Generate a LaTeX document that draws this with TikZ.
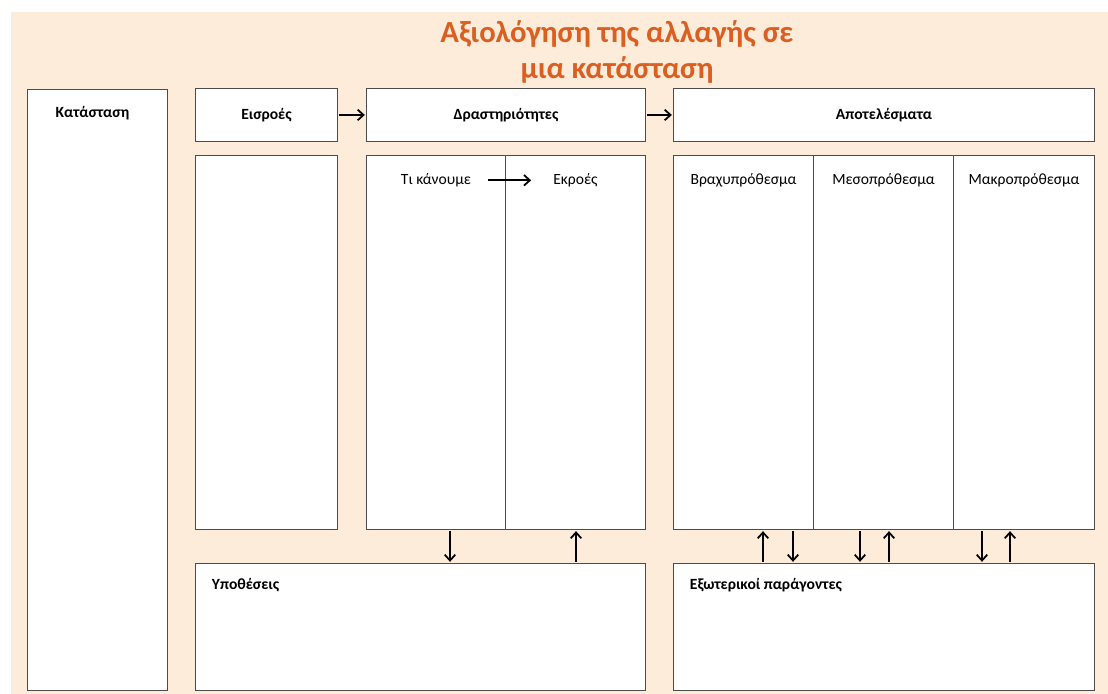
\documentclass[tikz,border=0pt]{standalone}
\usepackage{fontspec}
\setmainfont{Carlito}
\usetikzlibrary{arrows.meta,positioning}
\definecolor{peach}{HTML}{FDECD9}
\definecolor{titleorange}{HTML}{DC5F22}
\begin{document}
\begin{tikzpicture}[x=0.03cm,y=-0.03cm,
  box/.style={draw=black!70,line width=0.8pt,fill=white,anchor=north west,inner sep=0pt},
  head/.style={font=\bfseries\fontsize{13.3}{16}\selectfont,inner sep=0pt},
  sub/.style={font=\fontsize{13.3}{16}\selectfont,inner sep=0pt},
  arr/.style={-{Straight Barb[length=5pt,width=9pt]},line width=1.5pt,shorten <=1pt,shorten >=1pt}]
\useasboundingbox (0,0) rectangle (1108,694);
\fill[peach] (11,12) rectangle (1108,694);
\node[font=\bfseries\fontsize{26.2}{31}\selectfont,text=titleorange,align=center] (title) at (617,52) {Αξιολόγηση της αλλαγής σε\\μια κατάσταση};

\node[box,minimum width=4.2cm,minimum height=18.03cm] (situation) at (27,89) {};
\node[box,head,minimum width=4.26cm,minimum height=1.59cm] (inputs) at (195,88) {Εισροές};
\node[box,head,minimum width=8.37cm,minimum height=1.59cm] (acts) at (366,88) {Δραστηριότητες};
\node[box,head,minimum width=12.63cm,minimum height=1.59cm] (results) at (673,88) {Αποτελέσματα};
\node[box,minimum width=4.26cm,minimum height=11.22cm] (inbody) at (195,155) {};
\node[box,minimum width=4.17cm,minimum height=11.22cm] (doing) at (366,155) {};
\node[box,minimum width=4.2cm,minimum height=11.22cm] (outputs) at (505,155) {};
\node[box,minimum width=4.2cm,minimum height=11.22cm] (short) at (673,155) {};
\node[box,minimum width=4.2cm,minimum height=11.22cm] (mid) at (813,155) {};
\node[box,minimum width=4.23cm,minimum height=11.22cm] (long) at (953,155) {};
\node[box,minimum width=13.5cm,minimum height=3.81cm] (hyp) at (195,563) {};
\node[box,minimum width=12.63cm,minimum height=3.81cm] (ext) at (673,563) {};

\node[head,below=0.5cm of situation.north,xshift=-0.15cm] (situationlbl) {Κατάσταση};
\node[sub,below=0.55cm of doing.north] (doinglbl) {Τι κάνουμε};
\node[sub,below=0.55cm of outputs.north] (outputslbl) {Εκροές};
\node[sub,below=0.55cm of short.north] (shortlbl) {Βραχυπρόθεσμα};
\node[sub,below=0.55cm of mid.north] (midlbl) {Μεσοπρόθεσμα};
\node[sub,below=0.55cm of long.north] (longlbl) {Μακροπρόθεσμα};
\node[head,anchor=north west] (hyplbl) at ([xshift=0.5cm,yshift=-0.45cm]hyp.north west) {Υποθέσεις};
\node[head,anchor=north west] (extlbl) at ([xshift=0.5cm,yshift=-0.45cm]ext.north west) {Εξωτερικοί παράγοντες};

\draw[arr] (inputs) -- (acts);
\draw[arr] (acts) -- (results);
\draw[arr,shorten <=0.5cm,shorten >=0.66cm] (doinglbl) -- (outputslbl);
\foreach \src/\dst/\dx in {doing/hyp/2.52,short/ext/3.6,mid/ext/1.41,long/ext/0.87}
  \draw[arr] ([xshift=\dx cm]\src.south west) -- ([xshift=\dx cm]\src.south west |- \dst.north);
\foreach \src/\dst/\dx in {outputs/hyp/2.13,short/ext/2.7,mid/ext/2.28,long/ext/1.71}
  \draw[arr] ([xshift=\dx cm]\src.south west |- \dst.north) -- ([xshift=\dx cm]\src.south west);
\end{tikzpicture}
\end{document}
